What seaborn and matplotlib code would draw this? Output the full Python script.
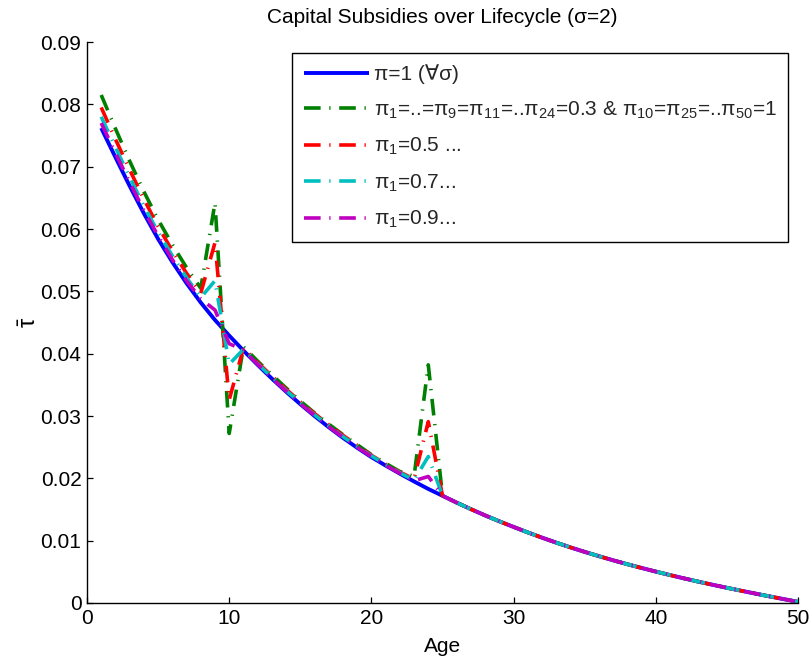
import numpy as np
import pandas as pd
import matplotlib
matplotlib.use("Agg")
import matplotlib.pyplot as plt
import seaborn as sns

# ---------------- data ----------------
ages = list(range(1, 51))

# common values for ages 25..50 (all series coincide there)
tail_25_50 = [0.0172, 0.0161, 0.01505, 0.01405, 0.0131, 0.0122, 0.01132, 0.01048,
              0.00968, 0.00892, 0.0082, 0.00751, 0.00685, 0.00622, 0.00562, 0.00504,
              0.00448, 0.00394, 0.00342, 0.00292, 0.00244, 0.00197, 0.00151, 0.00106,
              0.00062, 0.00019]

blue_1_24 = [0.0762, 0.0715, 0.0669, 0.0625, 0.0584, 0.0547, 0.0513, 0.0482, 0.0454,
             0.0429, 0.0405, 0.0382, 0.0360, 0.0339, 0.0319, 0.0300, 0.0282, 0.0265,
             0.0249, 0.0234, 0.02205, 0.02075, 0.0195, 0.0183]
green_1_24 = [0.0815, 0.0761, 0.0709, 0.0660, 0.0615, 0.0575, 0.0538, 0.0505, 0.0642,
              0.0272, 0.0411, 0.0388, 0.0366, 0.0345, 0.0324, 0.0305, 0.0287, 0.0270,
              0.0254, 0.0238, 0.0224, 0.0211, 0.0203, 0.0382]
red_1_24 = [0.0795, 0.0744, 0.0695, 0.0648, 0.0604, 0.0565, 0.0529, 0.0497, 0.0578,
            0.0326, 0.0409, 0.0386, 0.0364, 0.0343, 0.0323, 0.0304, 0.0286, 0.0269,
            0.0253, 0.0237, 0.0223, 0.0210, 0.0199, 0.0291]
cyan_1_24 = [0.0780, 0.0731, 0.0683, 0.0637, 0.0595, 0.0557, 0.0522, 0.0490, 0.0517,
             0.0383, 0.0407, 0.0384, 0.0362, 0.0341, 0.0321, 0.0302, 0.0284, 0.0267,
             0.0251, 0.0236, 0.0222, 0.0209, 0.0197, 0.0235]
magenta_1_24 = [0.0770, 0.0722, 0.0675, 0.0630, 0.0589, 0.0551, 0.0517, 0.0488, 0.0470,
                0.0416, 0.0406, 0.0383, 0.0361, 0.0340, 0.0320, 0.0301, 0.0283, 0.0266,
                0.0250, 0.0235, 0.0221, 0.0208, 0.0196, 0.0203]

labels = [
    "π=1 (∀σ)",
    "π$_1$=..=π$_9$=π$_{11}$=..π$_{24}$=0.3 & π$_{10}$=π$_{25}$=..π$_{50}$=1",
    "π$_1$=0.5 ...",
    "π$_1$=0.7...",
    "π$_1$=0.9...",
]
series_heads = [blue_1_24, green_1_24, red_1_24, cyan_1_24, magenta_1_24]
colors = ["#0000ff", "#008000", "#ff0000", "#00bfbf", "#bf00bf"]

yticks = [0, 0.01, 0.02, 0.03, 0.04, 0.05, 0.06, 0.07, 0.08, 0.09]
ytick_labels = ["0", "0.01", "0.02", "0.03", "0.04", "0.05", "0.06", "0.07", "0.08", "0.09"]
xticks = [0, 10, 20, 30, 40, 50]

# ---------------- style ----------------
sns.set_theme(style="ticks")
plt.rcParams["font.family"] = ["Liberation Sans", "DejaVu Sans"]
plt.rcParams["mathtext.fontset"] = "custom"
plt.rcParams["mathtext.rm"] = "Liberation Sans"
plt.rcParams["mathtext.it"] = "Liberation Sans"
plt.rcParams["mathtext.default"] = "rm"

FS = 15

rows = []
for lab, head in zip(labels, series_heads):
    for a, v in zip(ages, head + tail_25_50):
        rows.append({"Age": a, "tau": v, "series": lab})
df = pd.DataFrame(rows)

fig = plt.figure(figsize=(8.12, 6.67), dpi=100)
ax = fig.add_axes([87 / 812, (667 - 603) / 667, 711 / 812, 561 / 667])

for i, (lab, col) in enumerate(zip(labels, colors)):
    sub = df[df["series"] == lab]
    sns.lineplot(data=sub, x="Age", y="tau", ax=ax, color=col,
                 linewidth=2.8 if i == 0 else 2.6, label=lab, legend=False)
    ln = ax.lines[-1]
    ln.set_solid_capstyle("butt")
    ln.set_dash_capstyle("butt")
    if i > 0:
        ln.set_dashes([4.6, 2.4, 0.35, 2.4])

ax.set_xlim(0, 50)
ax.set_ylim(0, 0.09)
ax.set_xticks(xticks)
ax.set_xticklabels([str(t) for t in xticks])
ax.set_yticks(yticks)
ax.set_yticklabels(ytick_labels)
ax.tick_params(direction="in", length=4.5, width=0.9, labelsize=FS, colors="black",
               pad=4)
for s in ["top", "right"]:
    ax.spines[s].set_visible(False)
for s in ["left", "bottom"]:
    ax.spines[s].set_color("black")
    ax.spines[s].set_linewidth(1.0)

ax.set_xlabel("Age", fontsize=FS, labelpad=7, color="black")
ax.set_ylabel(r"$\bar{\mathrm{\tau}}$", fontsize=17, labelpad=0, color="black")
ax.set_title("Capital Subsidies over Lifecycle (σ=2)", fontsize=FS, pad=14,
             color="black")

handles = ax.lines[:5]
leg = ax.legend(handles, labels, loc="upper right",
                bbox_to_anchor=((788 - 87) / 711, (603 - 53) / 561),
                borderaxespad=0, fontsize=FS, frameon=True, fancybox=False,
                framealpha=1, edgecolor="black", handlelength=3.15,
                handletextpad=0.2, labelspacing=0.73, borderpad=0.55)
leg.get_frame().set_linewidth(1.0)

fig.savefig("out.png", dpi=100)
